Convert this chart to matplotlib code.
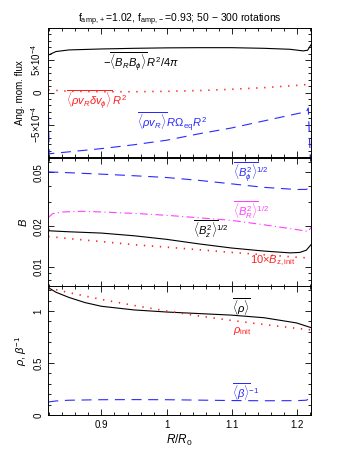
import matplotlib
matplotlib.use("Agg")
import matplotlib.pyplot as plt
from matplotlib.ticker import MultipleLocator, FixedLocator, FixedFormatter, NullFormatter, LogLocator

plt.rcParams['font.family'] = ['Liberation Sans', 'DejaVu Sans']
plt.rcParams['mathtext.fontset'] = 'custom'
plt.rcParams['mathtext.rm'] = 'Liberation Sans'
plt.rcParams['mathtext.it'] = 'Liberation Sans:italic'
plt.rcParams['mathtext.bf'] = 'Liberation Sans:bold'
plt.rcParams['font.size'] = 7

# ---- top panel: angular momentum flux ----
rMax = [0.8182, 0.83, 0.85, 0.9, 0.95, 1.0, 1.05, 1.1, 1.15, 1.19, 1.21, 1.217, 1.2222]
maxwell = [5.8e-4, 6.35e-4, 6.6e-4, 6.75e-4, 6.85e-4, 6.92e-4, 6.95e-4, 6.95e-4, 6.85e-4, 6.7e-4, 6.45e-4, 6.55e-4, 7.4e-4]

rRey = [0.8182, 0.85, 0.9, 0.95, 1.0, 1.05, 1.1, 1.15, 1.2, 1.2222]
reynolds = [0.4e-4, 0.2e-4, 0.12e-4, 0.12e-4, 0.18e-4, 0.3e-4, 0.5e-4, 0.75e-4, 1.1e-4, 1.3e-4]

rAdv = [0.8182, 0.8195, 0.85, 0.9, 0.95, 1.0, 1.05, 1.1, 1.15, 1.2, 1.215, 1.218, 1.2222]
advect = [-0.1e-3, -0.95e-3, -0.92e-3, -0.87e-3, -0.81e-3, -0.74e-3, -0.64e-3, -0.55e-3, -0.44e-3,
          -0.33e-3, -0.30e-3, -0.24e-3, -1.3e-3]

# ---- middle panel: field strengths ----
rBphi = [0.8182, 0.85, 0.9, 0.95, 1.0, 1.05, 1.1, 1.15, 1.2, 1.215, 1.2222]
bPhi = [0.0505, 0.0498, 0.0486, 0.0473, 0.0459, 0.0437, 0.0412, 0.0388, 0.0374, 0.0375, 0.0388]

rBr = [0.8182, 0.825, 0.84, 0.87, 0.9, 0.95, 1.0, 1.05, 1.1, 1.15, 1.2, 1.218, 1.2222]
bR = [0.0232, 0.0248, 0.0255, 0.0258, 0.0255, 0.0249, 0.0241, 0.0231, 0.0221, 0.0205, 0.0189, 0.0183, 0.0196]

rBz = [0.8182, 0.8195, 0.83, 0.85, 0.9, 0.95, 1.0, 1.05, 1.1, 1.15, 1.19, 1.205, 1.215, 1.2222]
bZ = [0.0197, 0.0185, 0.0184, 0.0182, 0.0178, 0.0170, 0.0160, 0.0148, 0.0138, 0.0131, 0.0127, 0.0128, 0.0133, 0.0146]

rBzi = [0.8182, 0.85, 0.9, 0.95, 1.0, 1.05, 1.1, 1.15, 1.2, 1.2222]
bZinit = [0.0168, 0.0162, 0.0154, 0.0146, 0.0140, 0.0134, 0.0128, 0.0123, 0.0118, 0.0116]

# ---- bottom panel: density, inverse plasma beta ----
rRho = [0.8182, 0.83, 0.85, 0.875, 0.9, 0.95, 1.0, 1.05, 1.1, 1.15, 1.2, 1.2222]
rho = [1.225, 1.18, 1.13, 1.08, 1.045, 1.01, 0.99, 0.975, 0.96, 0.935, 0.885, 0.84]

rRhoi = [0.8182, 0.85, 0.9, 0.95, 1.0, 1.05, 1.1, 1.15, 1.2, 1.2222]
rhoInit = [1.222, 1.176, 1.111, 1.053, 1.0, 0.952, 0.909, 0.870, 0.833, 0.818]

rBeta = [0.8182, 0.83, 0.85, 0.9, 0.95, 1.0, 1.05, 1.1, 1.15, 1.2, 1.215, 1.2222]
betaInv = [0.125, 0.135, 0.142, 0.147, 0.148, 0.147, 0.143, 0.139, 0.137, 0.138, 0.142, 0.165]

xTicks = [0.9, 1.0, 1.1, 1.2]
xTickLabels = ["0.9", "1", "1.1", "1.2"]

blue = "#2a2aff"
red = "#ff2020"
magenta = "#ff40ff"
lw = 0.8

W, H = 360, 466
fig = plt.figure(figsize=(W / 100, H / 100), dpi=100)
left, width = 48.3 / W, (311 - 48.3) / W
pH = 129 / H
axTop = fig.add_axes([left, 1 - 157 / H, width, pH])
axMid = fig.add_axes([left, 1 - 287 / H, width, pH], sharex=axTop)
axBot = fig.add_axes([left, 1 - 415 / H, width, pH], sharex=axTop)


def styleAxis(ax):
	ax.tick_params(which="both", direction="in", top=True, right=True, width=0.6)
	ax.tick_params(which="major", length=4.5)
	ax.tick_params(which="minor", length=2.2)
	for s in ax.spines.values():
		s.set_linewidth(0.7)
	ax.xaxis.set_minor_locator(MultipleLocator(0.02))
	for lab in ax.get_yticklabels():
		lab.set_rotation(90)
		lab.set_va("center")


# top
axTop.plot(rMax, maxwell, color="black", lw=lw)
axTop.plot(rRey, reynolds, color=red, lw=1.2, ls=(0, (0.8, 4)))
axTop.plot(rAdv, advect, color=blue, lw=lw, ls=(0, (9, 6)))
axTop.set_xlim(0.8182, 1.2222)
axTop.set_ylim(-1e-3, 1e-3)
axTop.yaxis.set_major_locator(FixedLocator([-5e-4, 0, 5e-4]))
axTop.yaxis.set_major_formatter(FixedFormatter([r"$-$5$\times$10$^{-4}$", "0", r"5$\times$10$^{-4}$"]))
axTop.yaxis.set_minor_locator(MultipleLocator(1e-4))
axTop.set_ylabel("Ang. mom. flux", labelpad=3)
axTop.set_title(r"f$_{\rm amp,+}$=1.02, f$_{\rm amp,-}$=0.93; 50 $-$ 300 rotations", fontsize=7.5, pad=3)
axTop.text(0.902, 4.7e-4, r"$-\overline{\langle B_R B_\phi\rangle}\,R^2/4\pi$", fontsize=8, va="center")
axTop.text(0.846, -1.2e-4, r"$\overline{\langle\rho v_R \delta v_\phi\rangle}\,R^2$", fontsize=8, va="center", color=red)
axTop.text(0.954, -4.6e-4, r"$\overline{\langle\rho v_R\rangle}\,R\Omega_{\rm eq}R^2$", fontsize=8, va="center", color=blue)
styleAxis(axTop)

# middle
axMid.plot(rBphi, bPhi, color=blue, lw=lw, ls=(0, (9, 6)))
axMid.plot(rBr, bR, color=magenta, lw=lw, ls=(0, (7, 3, 1, 3)))
axMid.plot(rBz, bZ, color="black", lw=lw)
axMid.plot(rBzi, bZinit, color=red, lw=1.2, ls=(0, (0.8, 4)))
axMid.set_yscale("log")
axMid.set_ylim(0.0071, 0.064)
axMid.yaxis.set_major_locator(FixedLocator([0.01, 0.02, 0.05]))
axMid.yaxis.set_major_formatter(FixedFormatter(["0.01", "0.02", "0.05"]))
axMid.yaxis.set_minor_locator(LogLocator(base=10, subs=[3, 4, 6, 7, 8, 9]))
axMid.yaxis.set_minor_formatter(NullFormatter())
axMid.set_ylabel(r"$B$", labelpad=3, fontsize=8)
axMid.text(1.102, 0.050, r"$\overline{\langle B_\phi^2\rangle}^{1/2}$", fontsize=8, va="center", color=blue)
axMid.text(1.102, 0.0262, r"$\overline{\langle B_R^2\rangle}^{1/2}$", fontsize=8, va="center", color=magenta)
axMid.text(1.041, 0.0192, r"$\overline{\langle B_z^2\rangle}^{1/2}$", fontsize=8, va="center", color="black")
axMid.text(1.128, 0.0110, r"10$\times B_{\rm z,init}$", fontsize=8, va="center", color=red)
styleAxis(axMid)

# bottom
axBot.plot(rRho, rho, color="black", lw=lw)
axBot.plot(rRhoi, rhoInit, color=red, lw=1.2, ls=(0, (0.8, 4)))
axBot.plot(rBeta, betaInv, color=blue, lw=lw, ls=(0, (9, 6)))
axBot.set_ylim(0, 1.24)
axBot.yaxis.set_major_locator(FixedLocator([0, 0.5, 1]))
axBot.yaxis.set_major_formatter(FixedFormatter(["0", "0.5", "1"]))
axBot.yaxis.set_minor_locator(MultipleLocator(0.1))
axBot.set_ylabel(r"$\rho$, $\beta^{-1}$", labelpad=3, fontsize=8)
axBot.text(1.1, 1.04, r"$\overline{\langle\rho\rangle}$", fontsize=8, va="center")
axBot.text(1.102, 0.81, r"$\rho_{\rm init}$", fontsize=8, va="center", color=red)
axBot.text(1.1, 0.22, r"$\overline{\langle\beta\rangle}^{-1}$", fontsize=8, va="center", color=blue)
axBot.set_xticks(xTicks)
axBot.set_xticklabels(xTickLabels)
axBot.set_xlabel(r"$R/R_0$", fontsize=8.5, labelpad=2)
styleAxis(axBot)

plt.setp(axTop.get_xticklabels(), visible=False)
plt.setp(axMid.get_xticklabels(), visible=False)

fig.savefig("out.png", dpi=100)
